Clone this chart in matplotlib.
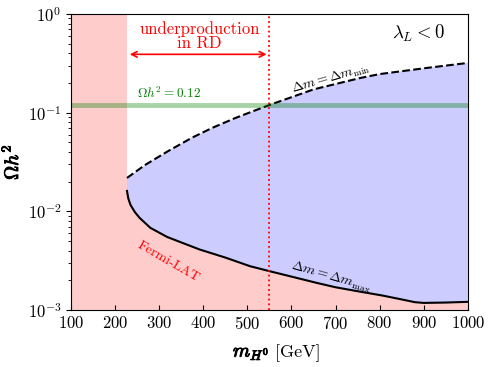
import numpy as np
import matplotlib
matplotlib.use('Agg')
import matplotlib.pyplot as plt
import matplotlib.patheffects as pe

plt.rcParams['font.family'] = 'serif'
plt.rcParams['font.serif'] = ['cmr10']
plt.rcParams['mathtext.fontset'] = 'cm'
plt.rcParams['axes.formatter.use_mathtext'] = True

# upper boundary (dashed, Delta m = Delta m_min)
m_up = [227, 268, 320, 374, 420, 472, 513, 551, 650, 755, 800, 907, 1000]
omega_up = [0.0218, 0.0295, 0.0407, 0.0556, 0.070, 0.088, 0.1035, 0.12, 0.172, 0.224, 0.246, 0.284, 0.319]

# lower boundary (solid, Delta m = Delta m_max)
m_lo = [227, 230, 235, 245, 256, 280, 318, 350, 392, 450, 506, 551, 600, 658, 700, 750, 807, 850, 880, 900, 950, 1000]
omega_lo = [0.0161, 0.0135, 0.0116, 0.0098, 0.00855, 0.0068, 0.0055, 0.00484, 0.0041, 0.0034, 0.00278, 0.00247,
            0.00218, 0.00188, 0.0017, 0.00155, 0.0014, 0.00128, 0.0012, 0.00118, 0.00119, 0.00121]

fermi_cut = 227
m_rd = 550
omega_obs = 0.12

fig = plt.figure(figsize=(4.94, 3.67), dpi=100)
ax = fig.add_axes([0.1437, 0.1553, 0.8033, 0.8066])

# excluded by Fermi-LAT (one polygon, no seam)
ax.fill([100, 100, fermi_cut] + m_lo + [1000], [1e-3, 1, 1] + omega_lo + [1e-3],
        color='red', alpha=0.2, lw=0)

# allowed band
ax.fill(m_up + m_lo[::-1], omega_up + omega_lo[::-1], color='blue', alpha=0.2, lw=0)

ax.plot(m_up, omega_up, 'k--', lw=1.5)
ax.plot(m_lo, omega_lo, 'k-', lw=1.5)

ax.axhline(omega_obs, color='green', alpha=0.35, lw=3.5)
ax.axvline(m_rd, color='red', ls=':', lw=1.3)

ax.annotate('', xy=(fermi_cut, 0.39), xytext=(m_rd, 0.39),
            arrowprops=dict(arrowstyle='<->', color='red', lw=1.2))
ax.text(392, 0.6, 'underproduction\nin RD', color='red', fontsize=12, ha='center', va='center',
        linespacing=0.9)

ax.text(250, 0.13, r'$\Omega h^2 = 0.12$', color='green', fontsize=9.5, ha='left', va='bottom')
ax.text(887, 0.64, r'$\lambda_L < 0$', fontsize=13.5, ha='center', va='center')
ax.text(690, 0.222, r'$\Delta m = \Delta m_{\rm min}$', fontsize=10, ha='center', va='center', rotation=16)
ax.text(690, 0.00218, r'$\Delta m = \Delta m_{\rm max}$', fontsize=10, ha='center', va='center', rotation=-16)
ax.text(320, 0.00306, 'Fermi-LAT', color='red', fontsize=10, ha='center', va='center', rotation=-30)

ax.set_yscale('log')
ax.set_xlim(100, 1000)
ax.set_ylim(1e-3, 1)
ax.set_xticks(np.arange(100, 1001, 100))
ax.tick_params(labelsize=12, direction='in')
ax.tick_params(axis='y', which='both', direction='out')

bold = [pe.withStroke(linewidth=0.7, foreground='black')]
ax.set_xlabel(r'$m_{H^0}$ [GeV]', fontsize=13)
ax.set_ylabel(r'$\Omega h^2$', fontsize=14, path_effects=bold)
# only the symbol is bold in the x label
ax.xaxis.label.set_text('')
ax.text(0.5, -0.115, r'$m_{H^0}$', transform=ax.transAxes, fontsize=14, ha='right', va='top',
        path_effects=bold)
ax.text(0.5, -0.115, ' [GeV]', transform=ax.transAxes, fontsize=13, ha='left', va='top')

fig.savefig('out.png', dpi=100)
